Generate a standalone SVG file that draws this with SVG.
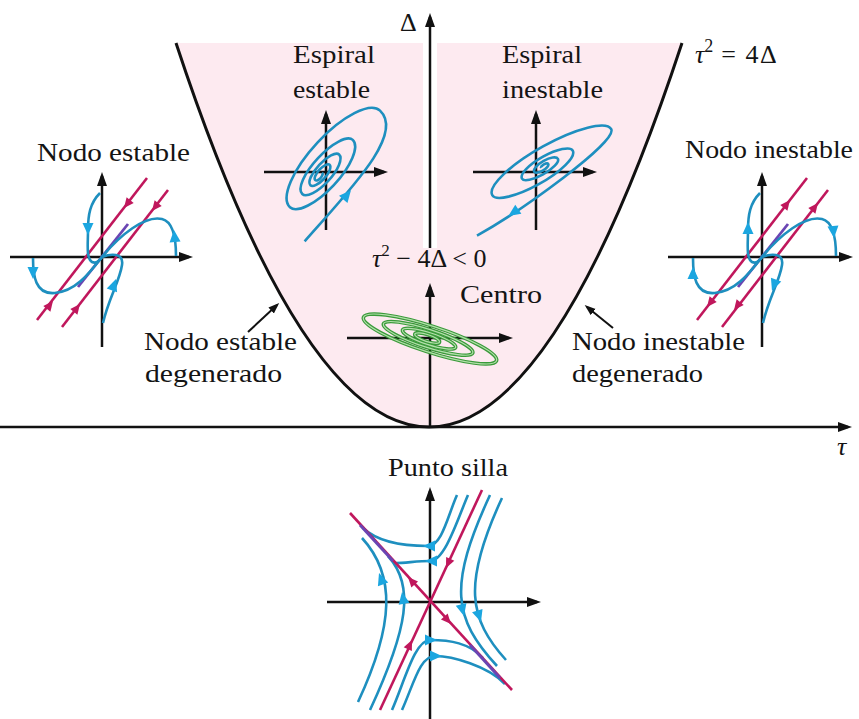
<svg xmlns="http://www.w3.org/2000/svg" width="859" height="719" viewBox="0 0 859 719">
<style>
.t{font-family:"Liberation Serif","Times New Roman",serif;font-size:26px;fill:#141414}
.i{font-style:italic}
.ax{stroke:#111;stroke-width:2.5;fill:none;marker-end:url(#ah)}
.bl{stroke:#1e8fbf;stroke-width:2.6;fill:none}
.mg{stroke:#c0175c;stroke-width:2.6;fill:none}
.pu{stroke:#6a45b3;stroke-width:2.8;fill:none}
.gr{stroke:#3a9a3a;stroke-width:3.6;fill:none}
.gl{stroke:#b3e0ab;stroke-width:1.2;fill:none}
</style>
<defs>
<marker id="ah" markerUnits="userSpaceOnUse" markerWidth="14" markerHeight="12" viewBox="0 0 14 12" refX="10" refY="6" orient="auto"><path d="M0,1 L14,6 L0,11 Z" fill="#111"/></marker>
<marker id="ah2" markerUnits="userSpaceOnUse" markerWidth="11" markerHeight="10" viewBox="0 0 11 10" refX="8" refY="5" orient="auto"><path d="M0,1 L11,5 L0,9 Z" fill="#111"/></marker>
<path id="hb" d="M0,0 L-12,-5.5 L-12,5.5 Z" fill="#1ba6e0"/>
<path id="hm" d="M0,0 L-10,-4.5 L-10,4.5 Z" fill="#c0175c"/>
<g id="nodecurves">
<path class="mg" d="M37,320 L147,178"/>
<path class="mg" d="M62,327 L168,190"/>
<path class="pu" d="M78,287 L128,224"/>
<path class="bl" d="M100,193 C90,203 88,215 88,230 C88,245 86,258 92,262 C96,264 100,260 102,257"/>
<path class="bl" d="M176,256 C176,240 174,222 162,219 C145,215 120,235 102,257"/>
<path class="bl" d="M33,258 C33,275 35,295 55,293 C75,291 88,275 102,257"/>
<path class="bl" d="M103,323 C108,300 120,280 122,265 C124,252 110,254 102,257"/>
</g>
</defs>

<rect width="859" height="719" fill="#fff"/>

<g id="region">
<path d="M176,43 Q429,811 682,43 Z" fill="#fdeaf0"/>
<rect x="423" y="43" width="14" height="205" fill="#fff"/>
</g>

<g id="axes">
<line class="ax" x1="0" y1="427" x2="848" y2="427"/>
<line class="ax" x1="430" y1="248" x2="430" y2="17"/>
</g>

<g id="parabola">
<path d="M176,43 Q429,811 682,43" fill="none" stroke="#111" stroke-width="3"/>
</g>

<g id="connectors">
<line x1="248" y1="332" x2="277" y2="305" stroke="#111" stroke-width="2" marker-end="url(#ah2)"/>
<line x1="613" y1="328" x2="587" y2="307" stroke="#111" stroke-width="2" marker-end="url(#ah2)"/>
</g>

<g id="espiral-estable">
<line class="ax" x1="326" y1="230" x2="326" y2="114"/>
<line class="ax" x1="264" y1="172" x2="384" y2="172"/>
<g transform="translate(320,175) rotate(-47)">
<path class="bl" d="M-59,34 C10,32 88,34 88,0 A66,24 0 0 0 -44,0 A46,17 0 0 0 48,0 A37,13 0 0 0 -26,0 A27,10 0 0 0 28,0 A21,7.5 0 0 0 -14,0 A14,5.5 0 0 0 14,0 A10.5,4 0 0 0 -7,0 A5,2.5 0 0 0 3,0"/>
<use href="#hb" transform="translate(10,33) rotate(-3)"/>
</g>
</g>

<g id="espiral-inestable">
<line class="ax" x1="536" y1="230" x2="536" y2="114"/>
<line class="ax" x1="473" y1="172" x2="593" y2="172"/>
<g transform="translate(543,167) rotate(-29)">
<path class="bl" d="M-2,0 A4,1.8 0 0 1 6,0 A8,3 0 0 1 -10,0 A13.5,5 0 0 1 17,0 A20.5,6.5 0 0 1 -24,0 A29,9 0 0 1 34,0 A46,13 0 0 1 -58,0 A68,18 0 0 1 78,0 C78,14 -40,28 -91,28"/>
<use href="#hb" transform="translate(-54,26) rotate(175)"/>
</g>
</g>

<g id="nodo-estable">
<line class="ax" x1="102" y1="347" x2="102" y2="176"/>
<line class="ax" x1="10" y1="257" x2="189" y2="257"/>
<use href="#nodecurves"/>
<use href="#hm" transform="translate(53,301) rotate(-52)"/>
<use href="#hm" transform="translate(80,304) rotate(-52)"/>
<use href="#hm" transform="translate(124,208) rotate(128)"/>
<use href="#hm" transform="translate(152,211) rotate(128)"/>
<use href="#hb" transform="translate(88,235) rotate(90)"/>
<use href="#hb" transform="translate(174,230) rotate(-95)"/>
<use href="#hb" transform="translate(33,279) rotate(90)"/>
<use href="#hb" transform="translate(116,279) rotate(-70)"/>
</g>

<g id="nodo-inestable">
<line class="ax" x1="762" y1="347" x2="762" y2="176"/>
<line class="ax" x1="668" y1="257" x2="849" y2="257"/>
<use href="#nodecurves" transform="translate(660,0)"/>
<use href="#hm" transform="translate(707,307) rotate(128)"/>
<use href="#hm" transform="translate(734,310) rotate(128)"/>
<use href="#hm" transform="translate(790,200) rotate(-52)"/>
<use href="#hm" transform="translate(818,203) rotate(-52)"/>
<use href="#hb" transform="translate(748,222) rotate(-90)"/>
<use href="#hb" transform="translate(834,238) rotate(85)"/>
<use href="#hb" transform="translate(693,267) rotate(-90)"/>
<use href="#hb" transform="translate(772,291) rotate(110)"/>
</g>

<g id="centro">
<line class="ax" x1="430" y1="427" x2="430" y2="287"/>
<line class="ax" x1="347" y1="338" x2="509" y2="338"/>
<g transform="translate(430,339) rotate(18)">
<ellipse class="gr" cx="0" cy="0" rx="70" ry="13"/>
<ellipse class="gr" cx="-2" cy="0" rx="47" ry="9"/>
<ellipse class="gr" cx="-1" cy="0" rx="28" ry="6"/>
<ellipse class="gr" cx="-3" cy="0" rx="13" ry="3.5"/>
<ellipse class="gl" cx="0" cy="0" rx="70" ry="13"/>
<ellipse class="gl" cx="-2" cy="0" rx="47" ry="9"/>
<ellipse class="gl" cx="-1" cy="0" rx="28" ry="6"/>
<ellipse class="gl" cx="-3" cy="0" rx="13" ry="3.5"/>
</g>
</g>

<g id="punto-silla">
<line class="ax" x1="430" y1="719" x2="430" y2="491"/>
<line class="ax" x1="327" y1="602" x2="537" y2="602"/>
<path class="bl" d="M358,702 C394,625 396,575 362,538"/>
<path class="bl" d="M370,710 C408,628 415,585.5 388,556"/>
<path class="bl" d="M490,495 C448,586 453,618 497,666"/>
<path class="bl" d="M502,498 C462,584 469,619 506,660"/>
<path class="bl" d="M457,495 C448,515 442,546 428,546 C414,546 381,545 363,528"/>
<path class="bl" d="M468,495 C458,518 445,561 430,561 C418,561 405,563 396,563"/>
<path class="bl" d="M392,710 C405,680 415,640 430,640 C450,640 469.5,643 483,658"/>
<path class="bl" d="M402,710 C414,683 420,656 435,656 C452,656 488,666 505,684"/>
<path class="mg" d="M350,513 L512,690"/>
<path class="mg" d="M482,490 L380,710"/>
<path class="pu" d="M360,525 L393,561"/>
<path class="pu" d="M470,645 L500,678"/>
<use href="#hm" transform="translate(408,577) rotate(-132)"/>
<use href="#hm" transform="translate(451,624) rotate(48)"/>
<use href="#hm" transform="translate(446,568) rotate(115)"/>
<use href="#hm" transform="translate(412,640) rotate(-65)"/>
<use href="#hb" transform="translate(379,573) rotate(-110)"/>
<use href="#hb" transform="translate(402,592) rotate(-100)"/>
<use href="#hb" transform="translate(464,616) rotate(76)"/>
<use href="#hb" transform="translate(481,622) rotate(72)"/>
<use href="#hb" transform="translate(423,546) rotate(180)"/>
<use href="#hb" transform="translate(425,561) rotate(180)"/>
<use href="#hb" transform="translate(437,640) rotate(0)"/>
<use href="#hb" transform="translate(442,656) rotate(0)"/>
</g>

<g id="labels">
<text class="t" x="400" y="31" font-size="24">Δ</text>
<text class="t i" x="837" y="455" font-size="28">τ</text>
<text class="t" x="695" y="63" font-size="28"><tspan class="i">τ</tspan><tspan dy="-11" font-size="18">2</tspan><tspan dy="11" letter-spacing="1.5"> = 4Δ</tspan></text>
<text class="t" x="293" y="63" textLength="82" lengthAdjust="spacingAndGlyphs">Espiral</text>
<text class="t" x="293" y="98" textLength="77" lengthAdjust="spacingAndGlyphs">estable</text>
<text class="t" x="502" y="63" textLength="80" lengthAdjust="spacingAndGlyphs">Espiral</text>
<text class="t" x="502" y="98" textLength="101" lengthAdjust="spacingAndGlyphs">inestable</text>
<text class="t" x="37" y="161" textLength="153" lengthAdjust="spacingAndGlyphs">Nodo estable</text>
<text class="t" x="685" y="158" textLength="168" lengthAdjust="spacingAndGlyphs">Nodo inestable</text>
<text class="t" x="372" y="267" font-size="27"><tspan class="i">τ</tspan><tspan dy="-11" font-size="17">2</tspan><tspan dy="11"> − 4Δ &lt; 0</tspan></text>
<text class="t" x="460" y="303" textLength="82" lengthAdjust="spacingAndGlyphs">Centro</text>
<text class="t" x="144" y="350" textLength="153" lengthAdjust="spacingAndGlyphs">Nodo estable</text>
<text class="t" x="145" y="382" textLength="137" lengthAdjust="spacingAndGlyphs">degenerado</text>
<text class="t" x="572" y="350" textLength="173" lengthAdjust="spacingAndGlyphs">Nodo inestable</text>
<text class="t" x="572" y="382" textLength="131" lengthAdjust="spacingAndGlyphs">degenerado</text>
<text class="t" x="388" y="476" textLength="120" lengthAdjust="spacingAndGlyphs">Punto silla</text>
</g>
</svg>
